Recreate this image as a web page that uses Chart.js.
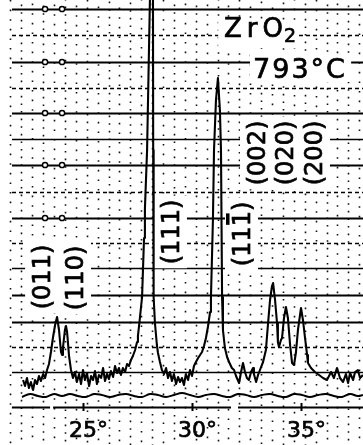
<!DOCTYPE html>
<html>
<head>
<meta charset="utf-8">
<script src="https://cdn.jsdelivr.net/npm/chart.js@4.4.1/dist/chart.umd.min.js"></script>
<style>
  html, body { margin: 0; padding: 0; background: #fff; }
  #wrap { width: 363px; height: 445px; }
</style>
</head>
<body>
<div id="wrap"><canvas id="xrd" width="363" height="445"></canvas></div>
<script>
// diffractogram trace: 2theta (deg) and pen height above the zero ruling
const twoTheta = [
  22.25, 22.34, 22.43, 22.52, 22.61, 22.71, 22.80, 22.89, 22.98, 23.07,
  23.17, 23.26, 23.35, 23.44, 23.53, 23.62, 23.72, 23.81, 23.90, 23.99,
  24.04, 24.08, 24.17, 24.22, 24.27, 24.36, 24.45, 24.54, 24.63, 24.72,
  24.82, 24.91, 25.00, 25.09, 25.18, 25.28, 25.37, 25.46, 25.55, 25.64,
  25.73, 25.83, 25.92, 26.01, 26.10, 26.19, 26.28, 26.38, 26.47, 26.56,
  26.65, 26.74, 26.83, 26.93, 27.02, 27.11, 27.20, 27.29, 27.39, 27.48,
  27.52, 27.61, 27.71, 27.80, 27.84, 27.94, 28.07, 28.14, 28.21, 28.22,
  28.24, 28.30, 28.39, 28.44, 28.53, 28.62, 28.72, 28.81,
  28.90, 28.99, 29.08, 29.17, 29.27, 29.36, 29.45, 29.54, 29.63, 29.72,
  29.82, 29.91, 30.00, 30.09, 30.18, 30.28, 30.37, 30.46, 30.55, 30.64,
  30.73, 30.83, 30.87, 30.96, 31.01, 31.10, 31.19, 31.28, 31.33, 31.38,
  31.42, 31.51, 31.61, 31.70, 31.83, 31.93, 32.02, 32.16, 32.25, 32.34,
  32.43, 32.52, 32.61, 32.71, 32.80, 32.84, 32.94, 33.03, 33.17, 33.26,
  33.39, 33.49, 33.58, 33.67, 33.72, 33.81, 33.90, 33.94, 33.99, 34.08,
  34.13, 34.22, 34.31, 34.40, 34.50, 34.59, 34.68, 34.77, 34.86, 35.00,
  35.09, 35.18, 35.28, 35.32, 35.46, 35.64, 35.83, 36.01, 36.19, 36.38,
  36.51, 36.65, 36.79, 36.93, 37.06, 37.16, 37.25, 37.39, 37.48, 37.61,
  37.71, 37.84
];
const intensity = [
  -8, -14, -6, -16, -10, -18, -8, -12, -4, -9,
  -2, -6, 2, 8, 20, 34, 47, 55, 42, 20,
  17, 24, 42, 46, 40, 16, 2, -6, 0, -10,
  -2, -12, 2, -8, -1, -14, -4, -8, 1, -12,
  -3, -6, 4, -9, -2, -7, 1, -5, 6, -1,
  4, -3, 4, 0, 8, 6, 12, 16, 22, 30,
  36, 54, 75, 134, 163, 222, 372, 470, 372, 222,
  75, 49, 27, 19, 10, 2, -2, 4,
  -6, 0, -9, -2, -12, -5, -10, -6, -13, -2,
  -8, 2, -4, 6, 10, 14, 17, 20, 26, 34,
  45, 60, 75, 152, 222, 272, 294, 262, 222, 75,
  42, 24, 15, 10, 4, 2, -4, -11, 0, 9,
  0, -6, -8, 0, 4, -2, -10, -3, 5, 10,
  22, 49, 72, 86, 89, 72, 49, 30, 25, 32,
  34, 54, 65, 54, 27, 9, 7, 20, 42, 64,
  52, 35, 17, 9, 4, 0, -3, -6, -8, 0,
  -6, 4, -6, -10, -2, -11, -1, -8, 0, 2,
  -6, -3
];

// recorder zero line drawn under the trace
const zeroTheta = [
  22.20, 22.57, 22.94, 23.30, 23.67, 24.04, 24.40, 24.77, 25.14, 25.50,
  25.87, 26.24, 26.61, 26.97, 27.34, 27.71, 28.07, 28.44, 28.81, 29.17,
  29.54, 29.91, 30.28, 30.64, 31.01, 31.38, 31.74, 32.11, 32.48, 32.84,
  33.21, 33.58, 33.94, 34.31, 34.68, 35.05, 35.41, 35.78, 36.15, 36.51,
  36.88, 37.25, 37.61, 37.84
];
const zeroLevel = [
  -25, -22, -24, -25, -22, -24, -22, -24, -25, -22,
  -23, -25, -23, -22, -24, -25, -22, -23, -25, -23,
  -21, -23, -25, -23, -22, -24, -25, -22, -23, -25,
  -23, -22, -24, -25, -22, -23, -25, -23, -22, -24,
  -25, -22, -24, -23
];

// 2theta axis
const tickValues = [25, 30, 35];
const tickLabels = ['25°', '30°', '35°'];

// reflections
const peakLabels = ['(011)', '(110)', '(111)', '(111)', '(002)', '(020)', '(200)'];
const peakTheta = [23.17, 24.68, 29.08, 32.34, 33.03, 34.31, 35.64];

const FONT = '"DejaVu Sans", sans-serif';

// where the lettering sits (height) and which digit carries a bar
const labelSpots = [
  { y: 95 }, { y: 94 }, { y: 140 }, { y: 138, bar: 3 }, { y: 219 }, { y: 219 }, { y: 219 }
];

// text with a slightly heavier pen, like the hand lettering
function inkText(ctx, s, x, y) {
  ctx.fillText(s, x, y);
  ctx.strokeText(s, x, y);
}

const paperPlugin = {
  id: 'paper',
  beforeDatasetsDraw(chart) {
    const { ctx } = chart;
    const xs = chart.scales.x, ys = chart.scales.y;
    const W = chart.width, H = chart.height;
    const px = v => xs.getPixelForValue(v);
    const py = v => ys.getPixelForValue(v);
    ctx.save();

    // dotted vertical rulings, every half degree
    ctx.strokeStyle = '#111';
    ctx.lineWidth = 1.6;
    let k = 0;
    for (let a = 21.67; a < 38; a += 0.5, k++) {
      ctx.setLineDash([1.6, k % 2 ? 6 : 8]);
      ctx.lineDashOffset = (k * 3) % 7;
      const X = Math.round(px(a)) + 0.5;
      ctx.beginPath(); ctx.moveTo(X, 0); ctx.lineTo(X, H); ctx.stroke();
    }

    // horizontal rulings
    const heavy = [363, 310, 259, 207, 154, 77, 50];
    const thin = [233, 104, 0];
    const dashed = [337, 284, 180, 129, 25];
    const hline = (v, w, dash) => {
      ctx.setLineDash(dash);
      ctx.lineDashOffset = 0;
      ctx.lineWidth = w;
      const Y = Math.round(py(v)) + 0.5;
      ctx.beginPath(); ctx.moveTo(12, Y); ctx.lineTo(W, Y); ctx.stroke();
    };
    ctx.strokeStyle = '#000';
    heavy.forEach(v => hline(v, 2.2, []));
    thin.forEach(v => hline(v, 1.3, []));
    dashed.forEach(v => hline(v, 1.5, [4, 3]));

    // small ring marks on the heavy rulings
    ctx.setLineDash([]);
    ctx.lineWidth = 1.5;
    [363, 310, 259, 207, 154].forEach(v => {
      [23.26, 24.04].forEach(a => {
        ctx.beginPath();
        ctx.arc(px(a), py(v), 2.6, 0, Math.PI * 2);
        ctx.fillStyle = '#fff'; ctx.fill(); ctx.stroke();
      });
    });

    // 2theta axis line with ticks
    ctx.lineWidth = 1.8;
    const axisY = Math.round(py(-35)) + 0.5;
    [[21.74, 23.49], [23.63, 31.79], [32.11, 37.9]].forEach(([a, b]) => {
      ctx.beginPath(); ctx.moveTo(px(a), axisY); ctx.lineTo(px(b), axisY); ctx.stroke();
    });
    ctx.lineWidth = 2;
    tickValues.forEach(t => {
      const X = Math.round(px(t)) + 0.5;
      ctx.beginPath(); ctx.moveTo(X, py(-31)); ctx.lineTo(X, py(-39)); ctx.stroke();
    });
    ctx.fillStyle = '#000';
    ctx.strokeStyle = '#000';
    ctx.lineWidth = 0.7;
    ctx.font = '22px ' + FONT;
    ctx.textBaseline = 'alphabetic';
    ctx.textAlign = 'left';
    tickLabels.forEach((lab, i) => {
      const num = lab.slice(0, -1);
      const w = ctx.measureText(num).width;
      inkText(ctx, lab, px(tickValues[i]) - w / 2, py(-65));
    });

    // rotated reflection labels
    ctx.font = '24px ' + FONT;
    ctx.textAlign = 'center';
    ctx.textBaseline = 'middle';
    peakLabels.forEach((lab, i) => {
      const spot = labelSpots[i];
      ctx.save();
      ctx.translate(px(peakTheta[i]), py(spot.y));
      ctx.rotate(-Math.PI / 2);
      const w = ctx.measureText(lab).width;
      ctx.fillStyle = '#fff';
      ctx.fillRect(-w / 2 - 4, -18, w + 8, 33);
      ctx.fillStyle = '#000';
      inkText(ctx, lab, 0, 1);
      if (spot.bar != null) {
        const pre = ctx.measureText(lab.slice(0, spot.bar)).width;
        const cw = ctx.measureText(lab[spot.bar]).width;
        ctx.fillRect(-w / 2 + pre + cw * 0.1, -17, cw * 0.75, 3.5);
      }
      ctx.restore();
    });

    // title lettering
    ctx.textAlign = 'left';
    ctx.textBaseline = 'alphabetic';
    ctx.fillStyle = '#fff';
    ctx.fillRect(px(31.2), py(352), px(34.8) - px(31.2), py(324) - py(352));
    ctx.fillRect(px(32.66), py(318), px(37.3) - px(32.66), py(290) - py(318));
    ctx.fillStyle = '#000';
    ctx.font = '26px ' + FONT;
    ctx.letterSpacing = '5px';
    const zx = px(31.47), zy = py(335);
    inkText(ctx, 'ZrO', zx, zy);
    const zw = ctx.measureText('ZrO').width;
    ctx.letterSpacing = '0px';
    ctx.font = '19px ' + FONT;
    inkText(ctx, '2', zx + zw - 4, zy + 5);
    ctx.font = '27px ' + FONT;
    ctx.letterSpacing = '2px';
    inkText(ctx, '793°C', px(32.80), py(294));
    ctx.letterSpacing = '0px';

    ctx.restore();
  }
};

new Chart(document.getElementById('xrd'), {
  type: 'line',
  data: {
    datasets: [
      {
        data: twoTheta.map((t, i) => ({ x: t, y: intensity[i] })),
        borderColor: '#000',
        borderWidth: 2.1,
        borderJoinStyle: 'round',
        pointRadius: 0,
        tension: 0
      },
      {
        data: zeroTheta.map((t, i) => ({ x: t, y: zeroLevel[i] })),
        borderColor: '#000',
        borderWidth: 2,
        pointRadius: 0,
        tension: 0.4
      }
    ]
  },
  options: {
    responsive: false,
    animation: false,
    events: [],
    layout: { padding: 0 },
    plugins: { legend: { display: false }, tooltip: { enabled: false } },
    scales: {
      x: { type: 'linear', min: 21.193, max: 37.844, display: false },
      y: { type: 'linear', min: -73, max: 372, display: false }
    }
  },
  plugins: [paperPlugin]
});
</script>
</body>
</html>
